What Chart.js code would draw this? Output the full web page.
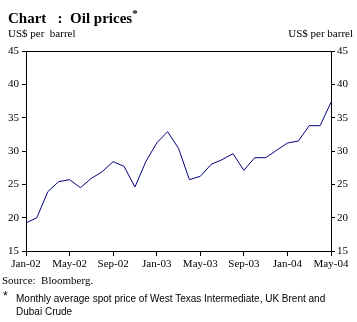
<!DOCTYPE html>
<html>
<head>
<meta charset="utf-8">
<script src="https://cdn.jsdelivr.net/npm/chart.js@4"></script>
<style>
  body { margin: 0; background: #fff; }
  #wrap { position: relative; width: 357px; height: 322px; overflow: hidden; }
  #chart { position: absolute; left: 0; top: 0; }
  .t { position: absolute; white-space: nowrap; color: #000; line-height: 1; }
  .serif { font-family: "Liberation Serif", "Times New Roman", serif; }
  .sans { font-family: "Liberation Sans", Arial, sans-serif; }
</style>
</head>
<body>
<div id="wrap">
  <canvas id="chart" width="357" height="322"></canvas>
  <div class="t serif" style="left:8px;top:8px;font-size:15px;font-weight:bold;">Chart&nbsp;&nbsp;&nbsp;:&nbsp; Oil prices<sup style="font-size:11px;">*</sup></div>
  <div class="t serif" style="left:8px;top:28px;font-size:11px;">US$ per&nbsp; barrel</div>
  <div class="t serif" style="right:4px;top:28px;font-size:11px;">US$ per barrel</div>
  <div class="t serif" style="left:2px;top:275px;font-size:11px;">Source:&nbsp; Bloomberg.</div>
  <div class="t sans" style="left:3px;top:290px;font-size:12px;">*</div>
  <div class="t sans" style="left:16px;top:292px;font-size:10px;line-height:13px;">Monthly average spot price of West Texas Intermediate, UK Brent and<br>Dubai Crude</div>
</div>
<script>
// months Jan-02 .. May-04
const months = ["Jan-02","Feb-02","Mar-02","Apr-02","May-02","Jun-02","Jul-02","Aug-02","Sep-02","Oct-02","Nov-02","Dec-02",
  "Jan-03","Feb-03","Mar-03","Apr-03","May-03","Jun-03","Jul-03","Aug-03","Sep-03","Oct-03","Nov-03","Dec-03",
  "Jan-04","Feb-04","Mar-04","Apr-04","May-04"];
const oilPrice = [19.2, 20.0, 23.9, 25.4, 25.7, 24.5, 25.9, 26.9, 28.4, 27.7, 24.6, 28.4,
  31.2, 32.9, 30.4, 25.7, 26.2, 28.0, 28.7, 29.6, 27.1, 29.0, 29.0, 30.1,
  31.2, 31.5, 33.8, 33.8, 37.3];
const yTicks = [15, 20, 25, 30, 35, 40, 45];

const points = oilPrice.map((v, i) => ({ x: i, y: v }));
const tickFont = { family: "Liberation Serif", size: 11 };

// draw the box round the plot
const boxPlugin = {
  id: "box",
  afterDraw(chart) {
    const a = chart.chartArea;
    const c = chart.ctx;
    c.save();
    c.strokeStyle = "#000";
    c.lineWidth = 1;
    c.strokeRect(Math.round(a.left) + 0.5, Math.round(a.top) + 0.5, Math.round(a.right - a.left), Math.round(a.bottom - a.top));
    c.restore();
  }
};

function yAxis(pos, w, pad) {
  return {
    type: "linear",
    position: pos,
    min: 15,
    max: 45,
    afterFit(s) { s.width = w; },
    afterBuildTicks(s) { s.ticks = yTicks.map(v => ({ value: v })); },
    grid: { drawOnChartArea: false, tickLength: 4, color: "#000" },
    border: { color: "#000" },
    ticks: { color: "#000", font: tickFont, padding: pad }
  };
}

new Chart(document.getElementById("chart"), {
  type: "line",
  data: {
    datasets: [{
      data: points,
      borderColor: "#000080",
      borderWidth: 1,
      pointRadius: 0,
      tension: 0,
      fill: false
    }]
  },
  options: {
    responsive: false,
    animation: false,
    layout: { padding: { top: 51, left: 0, right: 0, bottom: 0 } },
    plugins: { legend: { display: false }, tooltip: { enabled: false } },
    scales: {
      x: {
        type: "linear",
        min: 0,
        max: months.length - 1,
        afterFit(s) { s.height = 71; },
        afterBuildTicks(s) {
          const t = [];
          for (let i = 0; i < months.length; i += 4) t.push({ value: i });
          s.ticks = t;
        },
        grid: { drawOnChartArea: false, tickLength: 5, color: "#000" },
        border: { color: "#000" },
        ticks: {
          color: "#000", font: tickFont, padding: 2, maxRotation: 0,
          callback: v => months[v]
        }
      },
      y: yAxis("left", 26, 3),
      y2: yAxis("right", 26, 2)
    }
  },
  plugins: [boxPlugin]
});
</script>
</body>
</html>
